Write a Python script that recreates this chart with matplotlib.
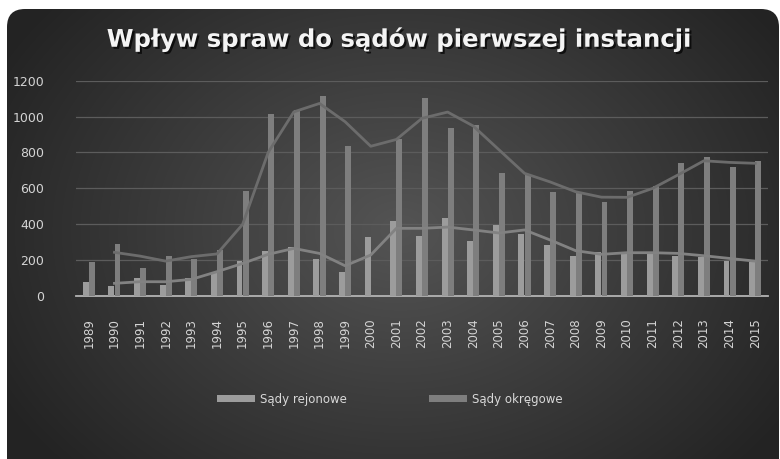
import numpy as np
import matplotlib
matplotlib.use("Agg")
import matplotlib.pyplot as plt
from matplotlib.patches import FancyBboxPatch
import matplotlib.patheffects as pe

# dane
lata = list(range(1989, 2016))
rejonowe = [78, 54, 99, 60, 97, 128, 192, 251, 273, 206, 130, 327, 417, 335, 432,
            305, 395, 343, 281, 222, 242, 231, 231, 222, 218, 192, 188]
okregowe = [190, 288, 153, 221, 206, 255, 584, 1015, 1036, 1114, 834, np.nan, 873, 1105, 938,
            951, 683, 677, 577, 571, 523, 584, 614, 742, 772, 720, 750]
# linie trendu (srednia ruchoma), od 1990
trend_lata = list(range(1990, 2016))
trend_rej = [69, 78, 78, 91, 134, 180, 231, 264, 236, 167, 227, 376, 376, 383, 367,
             350, 367, 311, 251, 231, 240, 240, 236, 223, 208, 193]
trend_okr = [242, 221, 193, 218, 233, 398, 800, 1026, 1073, 971, 834, 872, 990, 1025, 947,
             815, 683, 635, 580, 550, 549, 599, 675, 753, 744, 739]

W, H = 780, 459
fig = plt.figure(figsize=(W / 100, H / 100), dpi=100)
fig.patch.set_facecolor("white")

# tlo z gradientem
bg = fig.add_axes([0, 0, 1, 1])
bg.set_xlim(0, W)
bg.set_ylim(H, 0)
bg.axis("off")
yy, xx = np.mgrid[0:H, 0:W]
r = np.sqrt(((xx - 400) / 430.0) ** 2 + ((yy - 230) / 330.0) ** 2)
val = np.clip(0.33 - 0.18 * r, 0.14, 0.33)
img = np.dstack([val, val, val])
im = bg.imshow(img, extent=[0, W, H, 0], interpolation="bilinear")
box = FancyBboxPatch((7, 9), W - 8, H + 20, boxstyle="round,pad=0,rounding_size=18",
                     transform=bg.transData, facecolor="none", edgecolor="none")
bg.add_patch(box)
im.set_clip_path(box)

ax = fig.add_axes([76 / W, 1 - 295.7 / H, 692 / W, 215 / H])
ax.set_facecolor("none")
x = np.arange(len(lata))
bw = 0.23
ax.bar(x - 0.12, rejonowe, bw, color="#9c9c9c", zorder=3, label="Sądy rejonowe")
ax.bar(x + 0.12, okregowe, bw, color="#7e7e7e", zorder=3, label="Sądy okręgowe")
tx = np.array(trend_lata) - lata[0]
ax.plot(tx, trend_rej, color="#828282", lw=2.0, zorder=4)
ax.plot(tx, trend_okr, color="#6c6c6c", lw=2.0, zorder=4)

ax.set_xlim(-0.5, len(lata) - 0.5)
ax.set_ylim(0, 1200)
ax.set_yticks(range(0, 1201, 200))
ax.yaxis.grid(True, color="#5c5c5c", lw=0.9, zorder=0)
ax.set_xticks(x)
ax.set_xticklabels([str(l) for l in lata], rotation=90, fontsize=8.5, color="#d4d4d4")
ax.tick_params(axis="x", length=0, pad=16)
ax.tick_params(axis="y", length=0, pad=23, labelsize=9, labelcolor="#d4d4d4")
for s in ["top", "right", "left"]:
    ax.spines[s].set_visible(False)
ax.spines["bottom"].set_color("#b4b4b4")
ax.spines["bottom"].set_linewidth(1.3)

fig.text(0.51, 0.915, "Wpływ spraw do sądów pierwszej instancji", ha="center", va="center",
         fontsize=17.5, fontweight="bold", color="#f4f4f4",
         path_effects=[pe.withSimplePatchShadow(offset=(1.5, -1.5), shadow_rgbFace="black", alpha=0.7)])

leg = fig.legend(loc="center", bbox_to_anchor=(0.5, 1 - 399 / H), ncol=2, frameon=False,
                 fontsize=8.5, labelcolor="#d8d8d8", handlelength=3.2, handleheight=0.5,
                 columnspacing=7, handletextpad=0.4)

fig.savefig("out.png", dpi=100)
